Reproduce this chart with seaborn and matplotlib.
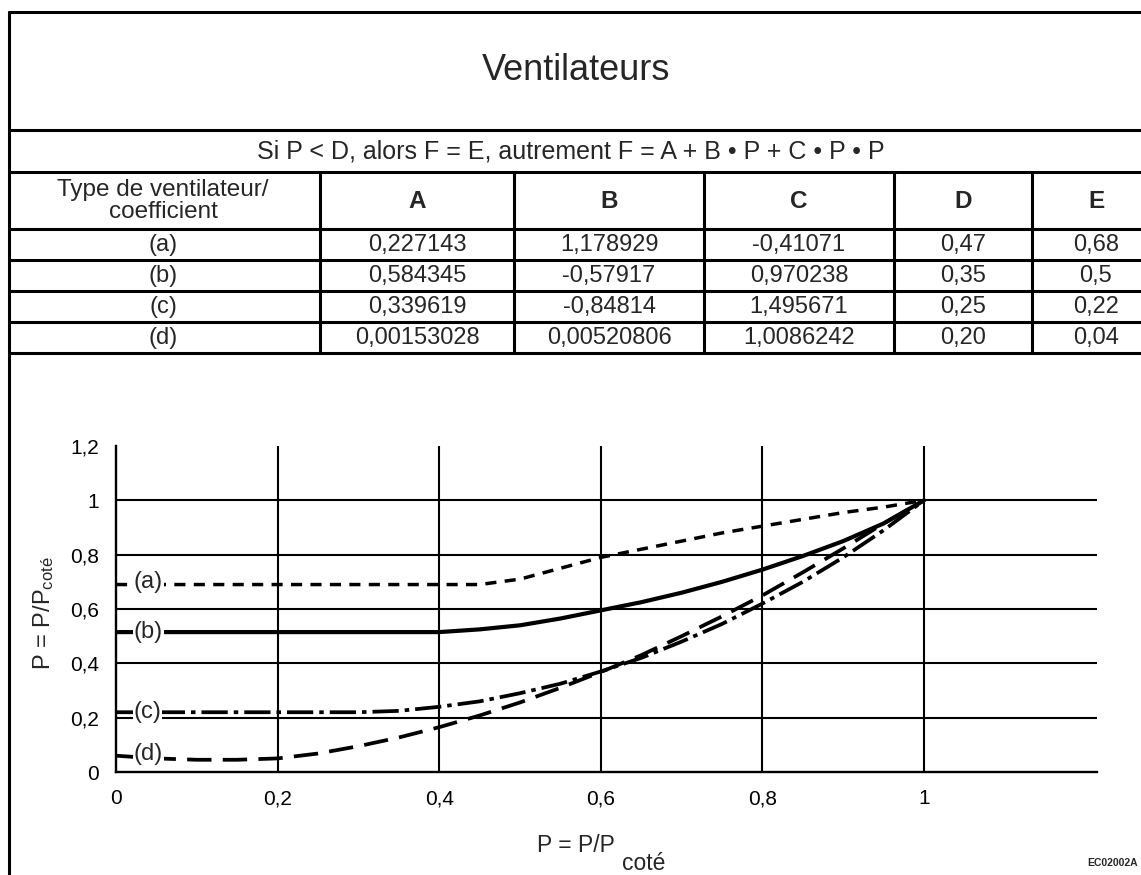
"""Ventilateurs: coefficient table and fan curves (a)-(d)."""
import matplotlib
matplotlib.use("Agg")
import pandas as pd
import matplotlib.pyplot as plt
import seaborn as sns

sns.set_theme(style="white")
plt.rcParams["font.family"] = ["Liberation Sans", "DejaVu Sans"]
plt.rcParams["mathtext.fontset"] = "custom"
plt.rcParams["mathtext.rm"] = "Liberation Sans"
plt.rcParams["mathtext.it"] = "Liberation Sans:italic"

# table content
title = "Ventilateurs"
formula = "Si P < D, alors F = E, autrement F = A + B • P + C • P • P"
header = ["Type de ventilateur/\ncoefficient", "A", "B", "C", "D", "E"]
fan_types = ["(a)", "(b)", "(c)", "(d)"]
coef_A = ["0,227143", "0,584345", "0,339619", "0,00153028"]
coef_B = ["1,178929", "-0,57917", "-0,84814", "0,00520806"]
coef_C = ["-0,41071", "0,970238", "1,495671", "1,0086242"]
coef_D = ["0,47", "0,35", "0,25", "0,20"]
coef_E = ["0,68", "0,5", "0,22", "0,04"]

# curves
p_vals = [0.0, 0.05, 0.1, 0.15, 0.2, 0.25, 0.3, 0.35, 0.4, 0.45, 0.5,
          0.55, 0.6, 0.65, 0.7, 0.75, 0.8, 0.85, 0.9, 0.95, 1.0]
curve_a = [0.69, 0.69, 0.69, 0.69, 0.69, 0.69, 0.69, 0.69, 0.69, 0.69, 0.71,
           0.75, 0.79, 0.82, 0.85, 0.88, 0.905, 0.93, 0.955, 0.975, 1.0]
curve_b = [0.515, 0.515, 0.515, 0.515, 0.515, 0.515, 0.515, 0.515, 0.515, 0.525, 0.54,
           0.565, 0.595, 0.625, 0.66, 0.70, 0.745, 0.795, 0.85, 0.915, 1.0]
curve_c = [0.22, 0.22, 0.22, 0.22, 0.22, 0.22, 0.22, 0.225, 0.24, 0.26, 0.29,
           0.325, 0.37, 0.42, 0.48, 0.545, 0.62, 0.70, 0.79, 0.89, 1.0]
curve_d = [0.06, 0.05, 0.045, 0.045, 0.05, 0.068, 0.095, 0.127, 0.165, 0.208, 0.256,
           0.31, 0.368, 0.43, 0.50, 0.573, 0.65, 0.735, 0.823, 0.915, 1.0]
label_y = [0.70, 0.515, 0.22, 0.065]
x_ticks = [0, 0.2, 0.4, 0.6, 0.8, 1.0]
x_ticklabels = ["0", "0,2", "0,4", "0,6", "0,8", "1"]
y_ticks = [0, 0.2, 0.4, 0.6, 0.8, 1.0, 1.2]
y_ticklabels = ["0", "0,2", "0,4", "0,6", "0,8", "1", "1,2"]

df = pd.DataFrame({
    "P": p_vals * 4,
    "F": curve_a + curve_b + curve_c + curve_d,
    "type": sum([[t] * len(p_vals) for t in fan_types], []),
})

W, H = 1141, 875
fig = plt.figure(figsize=(W / 100, H / 100), dpi=100)
fig.patch.set_facecolor("white")

# background axes in pixel coords for the table frame
bg = fig.add_axes([0, 0, 1, 1])
bg.set_xlim(0, W)
bg.set_ylim(H, 0)
bg.axis("off")

lw_frame = 2.2
left = 9
bg.plot([left, left], [12, H], color="black", lw=lw_frame)
row_lines = [12, 130, 172, 229, 260, 291, 322, 353]
for yy in row_lines:
    bg.plot([left, W], [yy, yy], color="black", lw=lw_frame)
col_x = [320, 514, 704, 894, 1032]
for xx in col_x:
    bg.plot([xx, xx], [172, 353], color="black", lw=lw_frame)

bg.text(576, 71, title, ha="center", va="center", fontsize=26)
bg.text(571, 151, formula, ha="center", va="center", fontsize=18)

col_cx = [163, 417, 609, 799, 963, 1096]
bg.text(col_cx[0], 201, header[0], ha="center", va="center", fontsize=17.5, linespacing=1.0)
for cx, h in zip(col_cx[1:], header[1:]):
    bg.text(cx, 201, h, ha="center", va="center", fontsize=17.5, fontweight="bold")
row_cy = [245, 276, 307, 338]
for i, cy in enumerate(row_cy):
    vals = [fan_types[i], coef_A[i], coef_B[i], coef_C[i], coef_D[i], coef_E[i]]
    for cx, v in zip(col_cx, vals):
        bg.text(cx, cy, v, ha="center", va="center", fontsize=17)

# chart
ax = fig.add_axes([116 / W, (H - 772) / H, (1097 - 116) / W, (772 - 446) / H])
ax.set_facecolor("none")
styles = {
    "(a)": dict(linestyle=(0, (3.2, 2.4)), linewidth=2.5),
    "(b)": dict(linestyle="-", linewidth=3.0),
    "(c)": dict(linestyle=(0, (7, 1.6, 1.2, 1.6)), linewidth=2.7),
    "(d)": dict(linestyle=(0, (6.5, 3)), linewidth=2.7),
}
for t in fan_types:
    sub = df[df["type"] == t]
    sns.lineplot(data=sub, x="P", y="F", ax=ax, color="black", **styles[t])

for t, yy in zip(fan_types, label_y):
    ax.text(0.022, yy, t, ha="left", va="center", fontsize=17,
            bbox=dict(facecolor="white", edgecolor="none", pad=0.5))

for yy in y_ticks[1:-1]:
    ax.axhline(yy, color="black", lw=1.5, zorder=0)
for xx in x_ticks[1:]:
    ax.axvline(xx, color="black", lw=1.5, zorder=0)

ax.set_xlim(0, 1.214)
ax.set_ylim(0, 1.2)
ax.set_xticks(x_ticks)
ax.set_xticklabels(x_ticklabels, fontsize=15)
ax.set_yticks(y_ticks)
ax.set_yticklabels(y_ticklabels, fontsize=15)
ax.tick_params(direction="inout", length=9, width=1.5, colors="black", pad=8)
for s in ["top", "right"]:
    ax.spines[s].set_visible(False)
for s in ["left", "bottom"]:
    ax.spines[s].set_color("black")
    ax.spines[s].set_linewidth(1.7)
ax.set_xlabel("")
ax.set_ylabel("")

fig.text(615 / W, 1 - 845 / H, "P = P/P", ha="right", va="center", fontsize=16.5)
fig.text(622 / W, 1 - 864 / H, "coté", ha="left", va="center", fontsize=16.5)
fig.text(44 / W, 1 - 613 / H, r"P = P/P$_{\mathrm{coté}}$", rotation=90,
         ha="center", va="center", fontsize=17)
fig.text(1138 / W, 1 - 863 / H, "EC02002A", ha="right", va="center",
         fontsize=7.5, fontweight="bold")

fig.savefig("out.png", dpi=100, facecolor="white")
